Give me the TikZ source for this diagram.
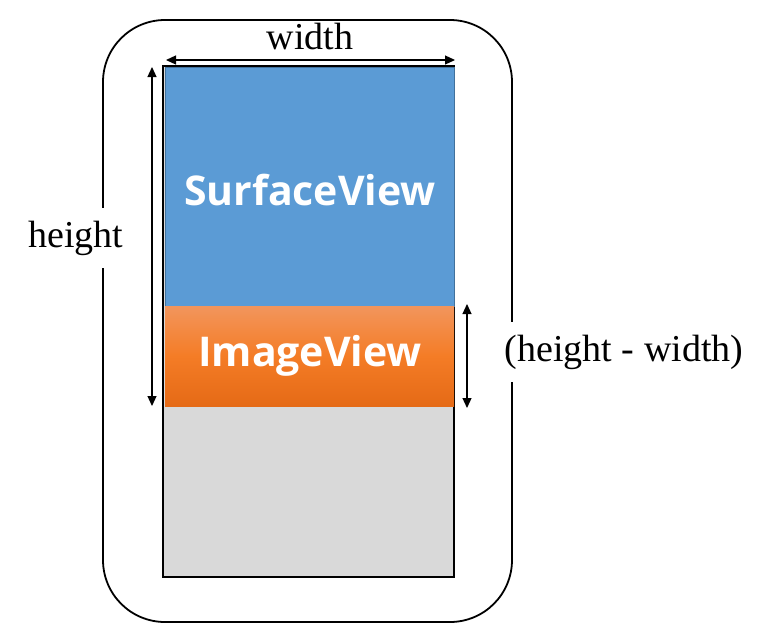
\documentclass[tikz,border=0pt]{standalone}
\usepackage{fontspec}
\setmainfont{Liberation Serif}
\newfontfamily\labelfont{Open Sans}
\usetikzlibrary{arrows.meta}
\definecolor{sfblue}{HTML}{5B9BD5}
\definecolor{sfborder}{HTML}{41719C}
\definecolor{ivtop}{HTML}{F2955C}
\definecolor{ivmid}{HTML}{F47C26}
\definecolor{ivbot}{HTML}{E56A16}
\definecolor{scrgray}{HTML}{D9D9D9}
\tikzset{
  dim/.style={{Triangle[length=10pt,width=9pt]}-{Triangle[length=10pt,width=9pt]}, line width=1.2pt},
  dimfont/.style={font=\fontsize{38}{42}\selectfont},
  dimlabel/.style={dimfont, fill=white, inner xsep=3pt, minimum height=60pt},
  viewlabel/.style={font=\labelfont\bfseries\fontsize{41}{46}\selectfont, text=white}
}
\begin{document}
\begin{tikzpicture}[x=1pt,y=-1pt]
\useasboundingbox (0,0) rectangle (776,624);
% phone body
\draw[line width=1.8pt, rounded corners=62pt] (103,20) rectangle (512,622);
% screen
\draw[line width=2pt, fill=scrgray] (163,66) rectangle (454,577);
% SurfaceView
\node[draw=sfborder, line width=1pt, fill=sfblue, minimum width=289pt, minimum height=239pt, inner sep=0pt, anchor=north west] (sv) at (165,67) {};
\node[viewlabel] (svl) at (310,190) {SurfaceView};
% ImageView
\node[top color=ivtop, bottom color=ivbot, middle color=ivmid, minimum width=289pt, minimum height=100pt, inner sep=0pt, anchor=north west] (iv) at (165,306) {};
\node[viewlabel] (ivl) at (310,356) {ImageView};
% width dimension
\coordinate (w1) at (166,60);
\coordinate (w2) at (455,60);
\draw[dim] (w1) -- (w2);
\node[dimfont, inner sep=0pt] (wl) at (310,37) {width};
% height dimension
\coordinate (h1) at (152,67);
\coordinate (h2) at (152,406);
\draw[dim] (h1) -- (h2);
\node[dimlabel] (hl) at (76,238) {height};
% height - width dimension
\coordinate (d1) at (467,304);
\coordinate (d2) at (467,408);
\draw[dim] (d1) -- (d2);
\node[dimlabel] (dl) at (624,352) {(height - width)};
\end{tikzpicture}
\end{document}
